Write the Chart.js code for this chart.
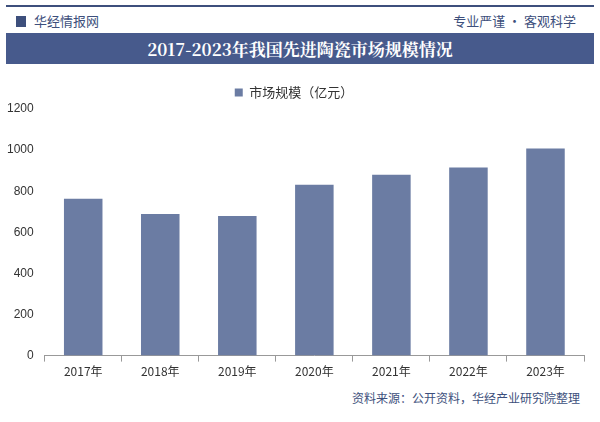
<!DOCTYPE html>
<html>
<head>
<meta charset="utf-8">
<script src="https://cdn.jsdelivr.net/npm/chart.js@4"></script>
<style>
  body { margin: 0; width: 600px; height: 422px; overflow: hidden; background: #fff; font-family: "Noto Sans CJK SC", sans-serif; position: relative; }
  .topline { position: absolute; left: 6px; right: 6px; top: 5px; height: 2px; background: #3d4f7c; }
  .brand { position: absolute; left: 16px; top: 11px; font-size: 13px; color: #3d4f7c; }
  .brand b { display: inline-block; width: 10px; height: 11px; background: #3d4f7c; margin-right: 8px; vertical-align: -1px; }
  .slogan { position: absolute; right: 24px; top: 11px; font-size: 13px; color: #3d4f7c; }
  .title { position: absolute; left: 6px; right: 6px; top: 33px; height: 31px; background: #475a8c; color: #fff; text-align: center; font: bold 17px/31px "Noto Serif CJK SC", "Noto Sans CJK SC", serif; }
  .src { position: absolute; right: 20px; top: 389px; font-size: 12px; color: #3d4f7c; }
  #wrap { position: absolute; left: 0; top: 72px; width: 600px; height: 310px; }
</style>
</head>
<body>
<div class="topline"></div>
<div class="brand"><b></b>华经情报网</div>
<div class="slogan">专业严谨 • 客观科学</div>
<div class="title">2017-2023年我国先进陶瓷市场规模情况</div>
<div id="wrap"><canvas id="c"></canvas></div>
<div class="src">资料来源：公开资料，华经产业研究院整理</div>
<script>
const years = ['2017年', '2018年', '2019年', '2020年', '2021年', '2022年', '2023年'];
const marketSize = [763, 689, 679, 831, 880, 915, 1008];

new Chart(document.getElementById('c'), {
  type: 'bar',
  data: {
    labels: years,
    datasets: [{
      label: '市场规模（亿元）',
      data: marketSize,
      backgroundColor: '#6b7ca3',
      categoryPercentage: 1,
      barPercentage: 0.5
    }]
  },
  options: {
    responsive: true,
    maintainAspectRatio: false,
    animation: false,
    layout: { padding: { left: 4, right: 16, top: 0, bottom: 0 } },
    plugins: {
      legend: {
        labels: { boxWidth: 8, boxHeight: 8, padding: 14, color: '#333', font: { size: 13, family: 'Noto Sans CJK SC' } }
      },
      tooltip: { enabled: false }
    },
    scales: {
      y: {
        min: 0, max: 1200,
        ticks: { stepSize: 200, color: '#333', font: { size: 12 }, callback: v => String(v) },
        grid: { display: false },
        border: { display: false }
      },
      x: {
        ticks: { color: '#333', font: { size: 12, family: 'Noto Sans CJK SC' } },
        grid: { display: true, drawOnChartArea: false, tickLength: 6, color: '#999' },
        border: { color: '#999' }
      }
    }
  }
});
</script>
</body>
</html>
